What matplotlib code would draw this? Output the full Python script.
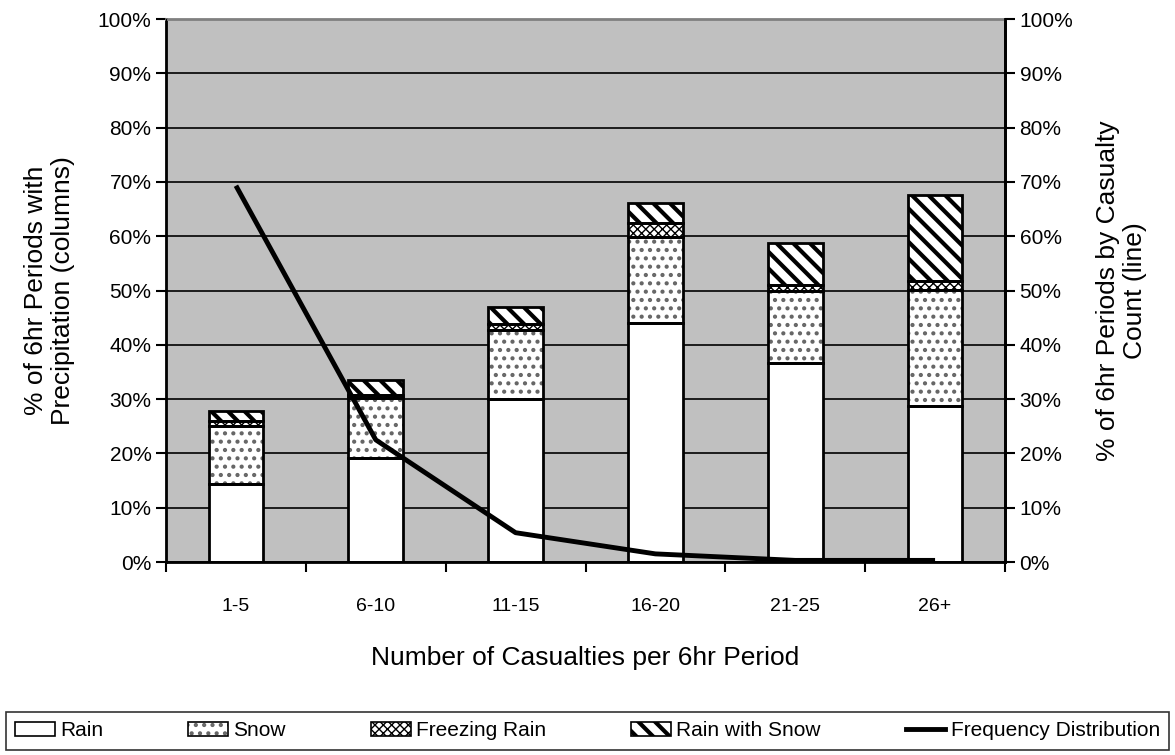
import matplotlib.pyplot as plt
import numpy as np
from matplotlib.patches import Patch
from matplotlib.lines import Line2D
from matplotlib.legend_handler import HandlerTuple, HandlerPatch
from matplotlib.ticker import PercentFormatter

plt.rcParams["font.family"] = ["Liberation Sans", "DejaVu Sans"]

categories = ["1-5", "6-10", "11-15", "16-20", "21-25", "26+"]
# stacked precipitation shares (% of 6hr periods)
rain = [14.3, 19.1, 30.0, 44.0, 36.7, 28.7]
snow = [10.7, 11.1, 12.8, 15.8, 13.3, 21.4]
freezing_rain = [1.0, 0.6, 1.0, 2.6, 1.0, 1.7]
rain_with_snow = [1.9, 2.7, 3.2, 3.8, 7.8, 15.8]
# frequency distribution of casualty counts (%)
frequency = [69.3, 22.5, 5.4, 1.5, 0.3, 0.3]

x = np.arange(len(categories))
width = 0.39


class HatchHandler(HandlerPatch):
    # keep each handle's own hatch line width in the legend
    def update_prop(self, legend_handle, orig_handle, legend):
        super().update_prop(legend_handle, orig_handle, legend)
        legend_handle._hatch_linewidth = orig_handle._hatch_linewidth


fig = plt.figure(figsize=(11.75, 7.55), dpi=100)
ax = fig.add_axes([0.1413, 0.2556, 0.714, 0.7192])
ax.set_facecolor("#c0c0c0")
ax.set_axisbelow(True)
ax.yaxis.grid(True, color="black", linewidth=1.2)

bottom = np.zeros(len(x))
styles = [
    (rain, None, "black", 1.0),
    (snow, "..", "#666666", 1.8),
    (freezing_rain, "xxxx", "black", 1.0),
    (rain_with_snow, "\\\\", "black", 3.0),
]
handles = []
for vals, hatch, hc, hlw in styles:
    plt.rcParams["hatch.linewidth"] = hlw
    ax.bar(x, vals, width, bottom=bottom, color="white", hatch=hatch,
           edgecolor=hc, linewidth=0, zorder=2)
    ax.bar(x, vals, width, bottom=bottom, fill=False,
           edgecolor="black", linewidth=2, zorder=3)
    handles.append((Patch(facecolor="white", hatch=hatch, edgecolor=hc, linewidth=0),
                    Patch(fill=False, edgecolor="black", linewidth=1.2)))
    bottom += np.array(vals)
plt.rcParams["hatch.linewidth"] = 1.0

ax.set_xlim(-0.5, len(x) - 0.5)
ax.set_ylim(0, 100)
ax.set_yticks(np.arange(0, 101, 10))
ax.yaxis.set_major_formatter(PercentFormatter(decimals=0))
ax.set_xticks(np.arange(-0.5, len(x), 1.0))
ax.set_xticklabels([])
ax.set_xticks(x, minor=True)
ax.set_xticklabels(categories, minor=True)
ax.tick_params(axis="x", which="major", direction="out", length=7, width=1.5)
ax.tick_params(axis="x", which="minor", length=0, pad=26, labelsize=14)
ax.tick_params(axis="y", direction="out", length=7, width=1.5, labelsize=15)

for side in ("left", "bottom", "right"):
    ax.spines[side].set_linewidth(2)
ax.spines["top"].set_color("#808080")
ax.spines["top"].set_linewidth(2)

ax.set_xlabel("Number of Casualties per 6hr Period", fontsize=19, labelpad=22)
ax.set_ylabel("% of 6hr Periods with\nPrecipitation (columns)", fontsize=19, labelpad=16)

ax2 = ax.twinx()
ax2.plot(x, frequency, color="black", linewidth=3.5, solid_capstyle="butt", zorder=4)
ax2.set_ylim(0, 100)
ax2.set_yticks(np.arange(0, 101, 10))
ax2.yaxis.set_major_formatter(PercentFormatter(decimals=0))
ax2.tick_params(axis="y", direction="out", length=7, width=1.5, labelsize=15)
ax2.spines["right"].set_linewidth(2)
ax2.spines["top"].set_visible(False)
ax2.set_ylabel("% of 6hr Periods by Casualty\nCount (line)", fontsize=19,
               rotation=90, labelpad=16)

handles.append(Line2D([], [], color="black", linewidth=3.5))
labels = ["Rain", "Snow", "Freezing Rain", "Rain with Snow", "Frequency Distribution"]
leg = fig.legend(handles, labels, ncol=5, loc="center",
                 bbox_to_anchor=(0.005, 0.007, 0.99, 0.05),
                 frameon=True, fancybox=False, edgecolor="black", fontsize=15,
                 handlelength=1.9, handleheight=0.6, handletextpad=0.25,
                 borderpad=0.45, borderaxespad=0, mode="expand",
                 handler_map={tuple: HandlerTuple(ndivide=1), Patch: HatchHandler()})
leg.get_frame().set_linewidth(1.2)

fig.savefig("out.png", dpi=100)
